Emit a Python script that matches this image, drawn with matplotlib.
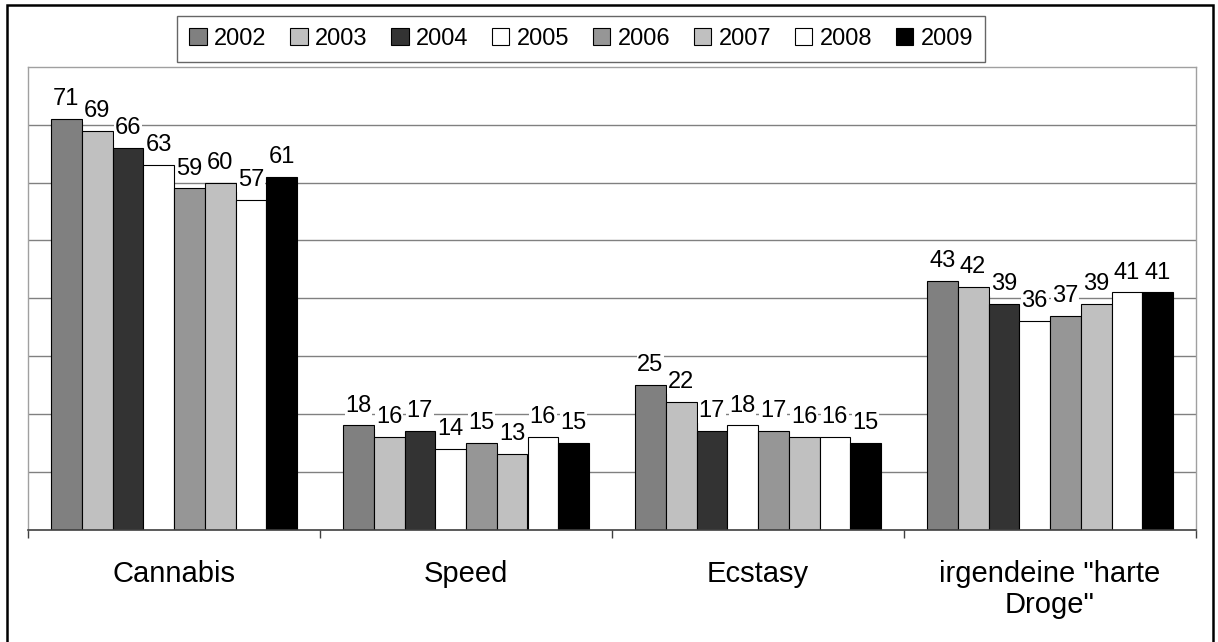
import matplotlib
matplotlib.use("Agg")
import matplotlib.pyplot as plt
import numpy as np
from matplotlib.patches import Rectangle

plt.rcParams['font.family'] = ['Liberation Sans', 'DejaVu Sans']

# Konsum nach Substanz und Jahr
kategorien = ['Cannabis', 'Speed', 'Ecstasy', 'irgendeine "harte\nDroge"']
jahre = ['2002', '2003', '2004', '2005', '2006', '2007', '2008', '2009']
werte_2002 = [71, 18, 25, 43]
werte_2003 = [69, 16, 22, 42]
werte_2004 = [66, 17, 17, 39]
werte_2005 = [63, 14, 18, 36]
werte_2006 = [59, 15, 17, 37]
werte_2007 = [60, 13, 16, 39]
werte_2008 = [57, 16, 16, 41]
werte_2009 = [61, 15, 15, 41]
reihen = [werte_2002, werte_2003, werte_2004, werte_2005,
          werte_2006, werte_2007, werte_2008, werte_2009]
farben = ['#808080', '#c0c0c0', '#333333', '#ffffff',
          '#969696', '#c0c0c0', '#ffffff', '#000000']

fig = plt.figure(figsize=(12.18, 6.42), dpi=100)
ax = fig.add_axes([28/1218, 1-529.5/642, (1196-28)/1218, (529.5-67)/642])

x = np.arange(len(kategorien))
n = len(reihen)
breite = 30.75/292
for i, (werte, farbe) in enumerate(zip(reihen, farben)):
    pos = x + (i - (n-1)/2)*breite
    ax.bar(pos, werte, breite, color=farbe, edgecolor='black', linewidth=0.8,
           label=jahre[i], zorder=2)
    for xp, w in zip(pos, werte):
        ax.annotate(str(w), (xp, w), xytext=(0, 10), textcoords='offset points',
                    ha='center', va='baseline', fontsize=17, zorder=4,
                    bbox=dict(facecolor='white', edgecolor='none', pad=0.5))

ax.set_xlim(-0.5, len(kategorien)-0.5)
ax.set_ylim(0, 80)
ax.set_yticks(np.arange(10, 80, 10))
ax.yaxis.grid(True, color='#808080', linewidth=1)
ax.set_axisbelow(True)
ax.tick_params(axis='y', length=0, labelleft=False)

ax.set_xticks(x)
ax.set_xticklabels(kategorien, fontsize=21, linespacing=1.12)
ax.set_xticks(np.arange(-0.5, len(kategorien), 1), minor=True)
ax.tick_params(axis='x', which='major', length=0, pad=22)
ax.tick_params(axis='x', which='minor', length=6, width=1, color='#404040', direction='out')

for s in ['top', 'left', 'right']:
    ax.spines[s].set_color('#a0a0a0')
    ax.spines[s].set_linewidth(1)
ax.spines['bottom'].set_color('#404040')
ax.spines['bottom'].set_linewidth(1.2)

leg = fig.legend(loc='center', bbox_to_anchor=(581/1218, 1-39/642), ncol=8,
                 fontsize=17, handlelength=0.75, handleheight=0.75,
                 handletextpad=0.3, columnspacing=1.0, frameon=True,
                 fancybox=False, edgecolor='#404040', borderpad=0.5)
leg.get_frame().set_linewidth(1)

# Rahmen um die ganze Grafik
fig.patches.append(Rectangle((7/1218, -0.02), (1213-7)/1218, 1-5/642+0.02,
                             transform=fig.transFigure, fill=False,
                             edgecolor='black', linewidth=1.8))

fig.savefig('out.png', dpi=100)
